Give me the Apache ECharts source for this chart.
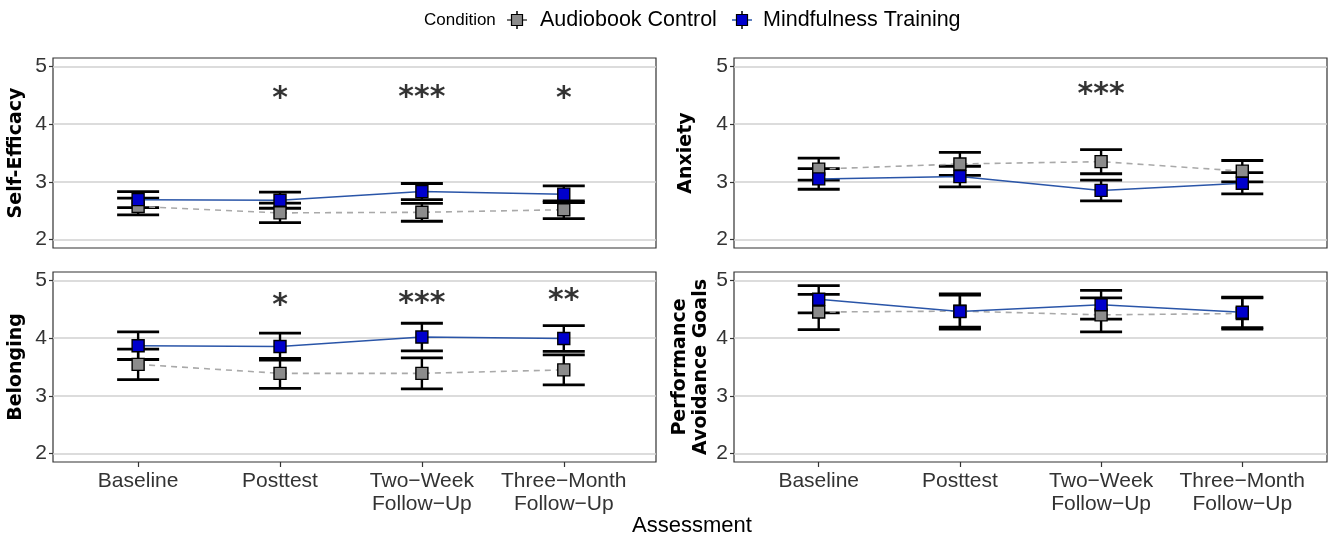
<!DOCTYPE html>
<html>
<head>
<meta charset="utf-8">
<script src="https://cdn.jsdelivr.net/npm/echarts@6/dist/echarts.min.js"></script>
<style>
html,body{margin:0;padding:0;background:#fff;}
#chart{width:1331px;height:538px;}
</style>
</head>
<body>
<div id="chart"></div>
<script>
// ---------- data ----------
const categories = ['Baseline', 'Posttest', 'Two\u2212Week\nFollow\u2212Up', 'Three\u2212Month\nFollow\u2212Up'];
const yTicks = [2, 3, 4, 5];
const conditions = ['Audiobook Control', 'Mindfulness Training'];
const outcomeNames = ['Self-Efficacy', 'Anxiety', 'Belonging', 'Performance\nAvoidance Goals'];

// Self-Efficacy
const selfEffControl = [2.57, 2.46, 2.47, 2.515];
const selfEffControlErr = [0.145, 0.17, 0.155, 0.155];
const selfEffMind = [2.69, 2.68, 2.83, 2.785];
const selfEffMindErr = [0.14, 0.14, 0.14, 0.145];
const selfEffStars = ['', '*', '***', '*'];
const selfEffStarY = [0, 4.55, 4.57, 4.55];

// Anxiety
const anxControl = [3.22, 3.31, 3.35, 3.185];
const anxControlErr = [0.19, 0.2, 0.21, 0.185];
const anxMind = [3.05, 3.09, 2.85, 2.975];
const anxMindErr = [0.18, 0.18, 0.18, 0.185];
const anxStars = ['', '', '***', ''];
const anxStarY = [0, 0, 4.63, 0];

// Belonging
const belControl = [3.545, 3.39, 3.39, 3.45];
const belControlErr = [0.265, 0.26, 0.27, 0.26];
const belMind = [3.87, 3.855, 4.02, 3.995];
const belMindErr = [0.24, 0.235, 0.24, 0.225];
const belStars = ['', '*', '***', '**'];
const belStarY = [0, 4.68, 4.72, 4.77];

// Performance Avoidance Goals
const pagControl = [4.455, 4.47, 4.405, 4.43];
const pagControlErr = [0.305, 0.28, 0.295, 0.27];
const pagMind = [4.677, 4.465, 4.58, 4.45];
const pagMindErr = [0.237, 0.305, 0.25, 0.265];
const pagStars = ['', '', '', ''];
const pagStarY = [0, 0, 0, 0];

// ---------- build ----------
const panels = [
  {c: selfEffControl, ce: selfEffControlErr, m: selfEffMind, me: selfEffMindErr, s: selfEffStars, sy: selfEffStarY},
  {c: anxControl, ce: anxControlErr, m: anxMind, me: anxMindErr, s: anxStars, sy: anxStarY},
  {c: belControl, ce: belControlErr, m: belMind, me: belMindErr, s: belStars, sy: belStarY},
  {c: pagControl, ce: pagControlErr, m: pagMind, me: pagMindErr, s: pagStars, sy: pagStarY}
];

const gridPos = [
  {left: 53, top: 58, width: 603, height: 190},
  {left: 734, top: 58, width: 593, height: 190},
  {left: 53, top: 272, width: 603, height: 190},
  {left: 734, top: 272, width: 593, height: 190}
];
const xMax = [4.65, 4.6, 4.65, 4.6];
const nameGaps = [26, 37, 26, 22];

const colCtrlFill = '#8c8c8c';
const colMindFill = '#0000cc';
const colCtrlLine = '#a9a9a9';
const colMindLine = '#2a55a8';
const textCol = '#333333';
const FONT = '"Liberation Sans", Arial, sans-serif';
const BOLDFONT = '"DejaVu Sans", sans-serif';

const grids = [], xAxes = [], yAxes = [], series = [];

function errRender(params, api) {
  const x = api.value(0), lo = api.value(1), hi = api.value(2);
  const a = api.coord([x, lo]), b = api.coord([x, hi]);
  const hw = 21;
  const st = {stroke: '#000', lineWidth: 2.8};
  return {type: 'group', children: [
    {type: 'line', shape: {x1: a[0], y1: a[1], x2: b[0], y2: b[1]}, style: {stroke: '#000', lineWidth: 2.4}},
    {type: 'line', shape: {x1: a[0] - hw, y1: a[1], x2: a[0] + hw, y2: a[1]}, style: st},
    {type: 'line', shape: {x1: b[0] - hw, y1: b[1], x2: b[0] + hw, y2: b[1]}, style: st}
  ]};
}

panels.forEach((p, i) => {
  const bottomRow = i >= 2;
  grids.push(Object.assign({show: true, borderColor: '#333', borderWidth: 1.2, backgroundColor: '#fff', containLabel: false}, gridPos[i]));
  xAxes.push({
    type: 'value', gridIndex: i, min: 0.4, max: xMax[i],
    axisLine: {show: false},
    splitLine: {show: false},
    axisTick: {show: bottomRow, customValues: [1, 2, 3, 4], length: 5, lineStyle: {color: '#333', width: 1.2}},
    axisLabel: {
      show: bottomRow, customValues: [1, 2, 3, 4],
      formatter: v => categories[Math.round(v) - 1] || '',
      color: textCol, fontSize: 21, fontFamily: FONT, lineHeight: 23, margin: 8
    }
  });
  yAxes.push({
    type: 'value', gridIndex: i, min: 1.85, max: 5.15,
    name: outcomeNames[i], nameLocation: 'middle', nameGap: nameGaps[i], nameRotate: 90,
    nameTextStyle: {fontWeight: 'bold', fontSize: 19, fontFamily: BOLDFONT, color: '#000', lineHeight: 21},
    axisLine: {show: false},
    axisTick: {show: true, customValues: yTicks, length: 4, lineStyle: {color: '#333', width: 1.2}},
    axisLabel: {customValues: yTicks, color: textCol, fontSize: 21, fontFamily: FONT, margin: 6},
    splitLine: {show: true, lineStyle: {color: '#d0d0d0', width: 1.5}}
  });
  const xs = [1, 2, 3, 4];
  series.push({
    type: 'custom', xAxisIndex: i, yAxisIndex: i, z: 2, silent: true,
    renderItem: errRender,
    data: xs.map((x, k) => [x, p.c[k] - p.ce[k], p.c[k] + p.ce[k]])
  });
  series.push({
    type: 'custom', xAxisIndex: i, yAxisIndex: i, z: 2, silent: true,
    renderItem: errRender,
    data: xs.map((x, k) => [x, p.m[k] - p.me[k], p.m[k] + p.me[k]])
  });
  series.push({
    name: conditions[0], type: 'line', xAxisIndex: i, yAxisIndex: i, z: 3,
    data: xs.map((x, k) => [x, p.c[k]]),
    symbol: 'rect', symbolSize: 12,
    lineStyle: {color: colCtrlLine, width: 1.6, type: [6, 5]},
    itemStyle: {color: colCtrlFill, borderColor: '#000', borderWidth: 1.4},
    emphasis: {disabled: true}, animation: false
  });
  series.push({
    name: conditions[1], type: 'line', xAxisIndex: i, yAxisIndex: i, z: 4,
    data: xs.map((x, k) => [x, p.m[k]]),
    symbol: 'rect', symbolSize: 12,
    lineStyle: {color: colMindLine, width: 1.5},
    itemStyle: {color: colMindFill, borderColor: '#000', borderWidth: 1.4},
    emphasis: {disabled: true}, animation: false
  });
  const starData = [];
  xs.forEach((x, k) => { if (p.s[k]) starData.push([x, p.sy[k], p.s[k]]); });
  series.push({
    type: 'scatter', xAxisIndex: i, yAxisIndex: i, z: 5, silent: true,
    symbolSize: 0, data: starData,
    itemStyle: {color: '#000'},
    label: {show: true, position: 'inside', offset: [0, 7], formatter: d => d.data[2],
      fontSize: 30, fontWeight: 'bold', fontFamily: BOLDFONT, color: '#000',
      textBorderWidth: 0, textBorderColor: 'transparent'}
  });
});

function legendIcon(cx, cy, fill, line) {
  return {type: 'group', children: [
    {type: 'line', shape: {x1: cx - 10, y1: cy, x2: cx + 10, y2: cy}, style: {stroke: line, lineWidth: 1.5}},
    {type: 'line', shape: {x1: cx, y1: cy - 9, x2: cx, y2: cy + 9}, style: {stroke: '#000', lineWidth: 1.5}},
    {type: 'rect', shape: {x: cx - 5.5, y: cy - 5.5, width: 11, height: 11}, style: {fill: fill, stroke: '#000', lineWidth: 1.2}}
  ]};
}

const chart = echarts.init(document.getElementById('chart'), null, {renderer: 'canvas'});
chart.setOption({
  animation: false,
  backgroundColor: '#fff',
  grid: grids, xAxis: xAxes, yAxis: yAxes, series: series,
  graphic: [
    {type: 'text', left: 424, top: 12, style: {text: 'Condition', fontSize: 17, fontFamily: FONT, fill: '#000'}},
    legendIcon(517, 20, colCtrlFill, '#444'),
    {type: 'text', left: 540, top: 9, style: {text: conditions[0], fontSize: 21.5, fontFamily: FONT, fill: '#000'}},
    legendIcon(742, 20, colMindFill, colMindLine),
    {type: 'text', left: 763, top: 9, style: {text: conditions[1], fontSize: 21.5, fontFamily: FONT, fill: '#000'}},
    {type: 'text', left: 632, top: 515, style: {text: 'Assessment', fontSize: 22, fontFamily: FONT, fill: '#000'}}
  ]
});
</script>
</body>
</html>
